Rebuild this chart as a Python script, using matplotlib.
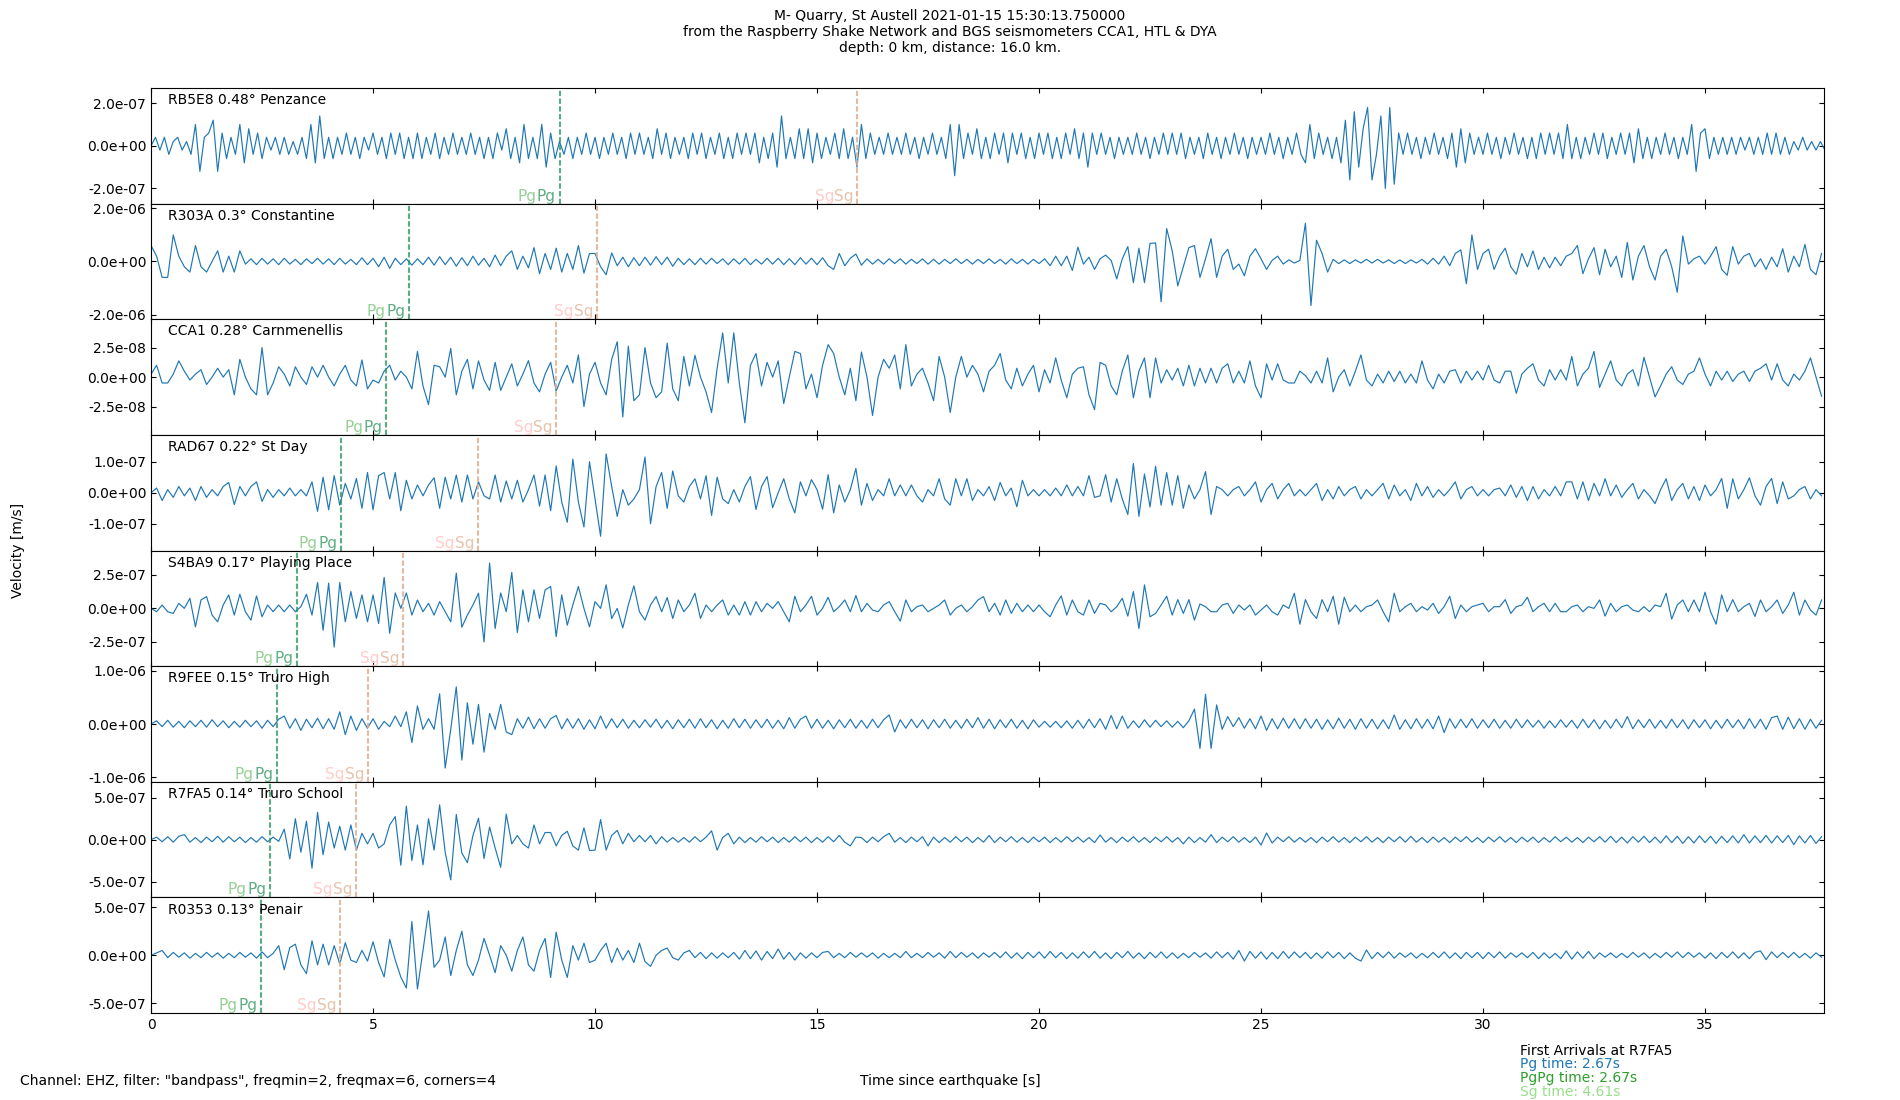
import numpy as np
import matplotlib
matplotlib.use("Agg")
import matplotlib.pyplot as plt
from matplotlib.ticker import FormatStrFormatter
from matplotlib.colors import to_rgb

# ---------------- data ----------------
stations = ["RB5E8 0.48° Penzance", "R303A 0.3° Constantine", "CCA1 0.28° Carnmenellis",
            "RAD67 0.22° St Day", "S4BA9 0.17° Playing Place", "R9FEE 0.15° Truro High",
            "R7FA5 0.14° Truro School", "R0353 0.13° Penair"]
tick_vals = [2.0e-7, 2.0e-6, 2.5e-8, 1.0e-7, 2.5e-7, 1.0e-6, 5.0e-7, 5.0e-7]
y_limits = [2.71e-7, 2.18e-6, 4.9e-8, 1.86e-7, 4.3e-7, 1.09e-6, 6.9e-7, 6.0e-7]
value_units = [2e-8, 2e-7, 2.5e-9, 1e-8, 2.5e-8, 1e-7, 5e-8, 5e-8]
sample_dt = [0.1, 0.125, 0.125, 0.125, 0.125, 0.125, 0.125, 0.125]
pg_times = [9.2, 5.8, 5.29, 4.27, 3.28, 2.83, 2.67, 2.47]
sg_times = [15.91, 10.05, 9.13, 7.37, 5.68, 4.88, 4.61, 4.25]
x_end = 37.68
x_ticks = [0, 5, 10, 15, 20, 25, 30, 35]

rb5e8 = [
    0, 2, -1, 2, -2, 1, 2, -1, 1, -2,
    5, -6, 2, 3, 6, -6, 3, -3, 2, -2,
    5, -4, 4, -2, 3, -3, 2, -1, 2, -2,
    2, -2, 1, -2, 2, -3, 5, -4, 7, -3,
    2, -3, 2, -2, 3, -2, 2, -3, 2, -1,
    3, -2, 2, -3, 3, -2, 3, -3, 2, -3,
    3, -3, 2, -2, 3, -3, 2, -2, 3, -2,
    2, -2, 3, -2, 2, -3, 2, -3, 3, -1,
    4, -3, 2, -4, 5, -3, 2, -3, 5, -5,
    3, -3, 1, -2, 2, -3, 2, -2, 3, -2,
    2, -3, 2, -2, 3, -2, 2, -3, 3, -2,
    3, -2, 2, -3, 4, -2, 3, -3, 2, -2,
    2, -3, 3, -2, 3, -3, 2, -2, 3, -3,
    2, -3, 3, -2, 3, -2, 3, -4, 2, -3,
    3, -5, 7, -3, 2, -3, 4, -3, 4, -4,
    3, -3, 2, -2, 3, -3, 4, -3, 2, -5,
    5, -3, 3, -2, 2, -2, 3, -2, 2, -2,
    3, -2, 2, -3, 2, -2, 3, -2, 2, -3,
    5, -7, 5, -3, 3, -2, 4, -3, 2, -3,
    3, -2, 3, -4, 3, -2, 3, -3, 2, -3,
    3, -2, 3, -3, 2, -3, 3, -2, 4, -3,
    3, -5, 3, -2, 3, -2, 2, -3, 2, -2,
    2, -2, 3, -2, 2, -3, 2, -2, 3, -2,
    3, -2, 3, -3, 2, -2, 2, -3, 3, -2,
    2, -3, 2, -2, 3, -2, 2, -3, 2, -2,
    2, -2, 3, -2, 2, -3, 2, -2, 3, -2,
    -4, 5, -3, 3, -2, 2, -3, 2, -4, 6,
    -8, 8, -5, 4, 9, -8, -2, 7, -10, 9,
    -9, 3, -2, 3, -2, 2, -3, 2, -2, 3,
    -2, 2, -3, 3, -5, 4, -4, 3, -2, 2,
    -2, 3, -2, 2, -3, 2, -2, 3, -2, 2,
    -3, 2, -3, 3, -2, 3, -2, 3, -3, 5,
    -3, 2, -3, 2, -2, 3, -2, 3, -3, 2,
    -2, 3, -2, 3, -4, 4, -3, 2, -3, 2,
    -2, 3, -2, 2, -3, 2, -2, 5, -6, 3,
    4, -3, 2, -2, 2, -2, 2, -2, 2, -1,
    2, -2, 2, -2, 3, -2, 3, -2, 2, -2,
    1, -1, 2, -1, 1, -1, 1, -1,
]

r303a = [
    3, 1, -3, -3, 5, 1, -1, -2,
    3, -1, -2, 0, 2, -2, 1, -2,
    2, -0.5, 0.5, -0.6, 0.6, -0.5, 0.5, -0.6,
    0.6, -0.5, 0.4, -0.6, 0.5, -0.4, 0.6, -0.5,
    0.5, -0.6, 0.6, -0.5, 0.4, -0.6, 0.7, -0.6,
    0.6, -1, 0.8, -1.3, 0.6, -0.6, 0.5, -0.7,
    0.5, -0.6, 0.8, -0.7, 0.9, -0.6, 0.8, -0.9,
    0.7, -0.8, 1, -0.7, 0.6, -1, 1.2, -0.8,
    1, 2, -1.5, 1, -1.2, 2.6, -2.3, 1.5,
    -1.5, 2.5, -2, 1.5, -1.5, 3, -2.2, 1.5,
    1.5, -1, -2.5, 1.6, -0.8, 0.8, -1, 0.7,
    -0.8, 0.8, -0.7, 0.9, -0.6, 0.8, -0.9, 0.6,
    -0.6, 0.5, -0.6, 0.6, -0.5, 0.6, -0.4, 0.5,
    -0.6, 0.5, -0.5, 0.6, -0.6, 0.4, -0.5, 0.6,
    -0.5, 0.6, -0.6, 0.5, -0.6, 0.7, -0.5, 0.6,
    -0.6, 0.7, -0.8, -1.5, 1.5, -0.8, 0.6, 1.4,
    -0.7, 0.5, -0.5, 0.4, -0.5, 0.5, -0.4, 0.5,
    -0.5, 0.4, -0.4, 0.5, -0.5, 0.4, -0.5, 0.4,
    -0.4, 0.5, -0.4, 0.4, -0.5, 0.4, -0.4, 0.5,
    -0.4, 0.4, -0.5, 0.5, -0.4, 0.4, -0.5, 0.4,
    -0.4, 0.5, -0.8, 1, -0.8, 1, -1.7, 2.7,
    -0.5, 0.8, -1.5, 0.5, 1.2, 0.2, -3.3, 0.5,
    2.8, -4, 2.5, -4, 3.4, 3.5, -7.6, 6.2,
    2, -4.6, -1, 2.6, 3, -3, 0.5, 4.3,
    -3, 1, 2.3, -1.5, -0.5, -2.7, 1, 2.4,
    0.5, -1.5, 0.2, 1, -0.5, 0.3, -0.3, 0.2,
    7.2, -8.3, 4, 1.5, -2, 0.4, -0.4, 0.3,
    -0.4, 0.3, -0.3, 0.4, -0.3, 0.4, -0.3, 0.3,
    -0.4, 0.3, -0.4, 0.3, -0.3, 0.4, -0.5, 0.6,
    -0.5, 1, -0.8, 1.5, 2.2, -4.2, 5, -1.5,
    1.5, 2.3, -1.5, 1, 2.5, -1, -2.4, 1.5,
    -1, 2, -1.5, 0.8, -1.2, 0.8, -0.8, 1,
    1.5, 3, -2.3, 0.5, 2.6, -2.5, 2.3, -1,
    1, -3, 3.6, -3.5, 1, 3, -1, -3.5,
    1, 2.3, -1, -5.8, 4.8, -0.5, 0.5, 1,
    -0.5, 1, 2.8, -1.5, -2.6, 2.8, -0.5, 1,
    1.5, -1, 0.5, -1.5, 0.8, -1, 2.4, -2,
    1, -1, 3.2, -1.5, -2.5, 1.5,
]

cca1 = [
    1, 4, -2, -2, 1, 5.5, 2, -1,
    1, 2.5, -2.5, 0, 3, 0, 2.5, -6,
    6, 0, -4, -6, 10, -6, -2, 3.5,
    1, -3, 3.5, 0, -2.5, 3.5, 0, 4,
    0, -3, 1, 4, -1, -3, 5.8, -4,
    -1, -2, 2, 4, -1, 2, 0, -4,
    8.7, -3, -9.3, 4, 3.5, 0, 9.7, -6,
    2, 6, -4, 5.5, -1, -4.5, 5, -4.5,
    0, 4.5, -3, 1, 5.6, -2, -5, 1,
    5, -4.7, 0, 4, -2, 7.5, -10, 1,
    5, -2, -6, 6, 12, -13.5, 10.5, -8,
    -6, 10, -2, -7, -5, 11.5, -4, -8,
    7, -3, 7.4, 0, -5, -12, 3, 15,
    -2, 15, -2, -15.5, 4, 8, -3, 5,
    0, 5.5, -9, 0, 8.7, 8, -4, 1,
    -7, 4, 11, 8, 0, -6, 3, -8,
    8.5, 0, -13, 0, 6, 3, 7.5, -4,
    11, -3, 1, 3, -2, -8, 7, 0,
    -12, 0, 7, 0, 4, 1, -5, 2,
    4, 8, -1, -4, 3, -3, 1, 4,
    -5, 2.5, -2, 6.5, -1, -7, 1, 3,
    3.5, -6, -11, 5, 4, -3, -6, 2,
    7.5, -7, 2, 6.5, -7, 6.5, -2, 2.5,
    -1, 3, -3, 4, -3, 3, -2, 3,
    -2, 3, 4.5, -2, 2, -2, 5.5, -3,
    -7, 4.5, -1, 4.5, -1, -2, -2, 2,
    0.5, -2, 2, -2, 6.5, -5, 0, 2.5,
    -3, 2, 7.5, -1, -3, 1, -2, 2,
    -1.5, 2, -2, 1, -2, 5.5, -1, -4,
    1, -2, 2, 2.5, -2, 2, -1, 2,
    -1, 4, -1, -2, 2, 2, -5.5, 1,
    3, 4.5, -1, -3, 2.5, -1, 2.5, -1,
    7, -3, 1, 3, 8.7, -3.5, 1, 5.5,
    -1, -3, 1, 2.5, -3, 6.7, 0, -6.7,
    -3, 1, 3.5, -1, -2.5, 1, 2, 6.5,
    1, -3, 2, -1, 2, -1.5, 1, 2,
    -1.5, 2, 3, 4.5, -1, 4.5, -1, -3,
    1, -1, 2, 6.5, 0, -6.5,
]

rad67 = [
    0, 1.5, -2.5, 1, -1.5, 2, -1, 1.5,
    -2.5, 2, -1.5, 1, -1, 2, 3.3, -3.8,
    2, -1, 2, 3.5, -2.8, 1, -1.5, 1,
    -1, 1.5, -1, 1, -1, 3.5, -6, 5,
    -5.5, 5.5, -4, 3, -2, 4.6, -5, 6.5,
    -5.5, 5.5, 6.5, -2, 6.5, -5.8, 4, -2,
    2.5, -1, 2.5, 4.8, -5, 5, -2, 5.7,
    -3, 5.7, -2, 3.5, -1, -2, 5.7, -3,
    3.8, -2, 4, -3, 1, 5.7, -4.3, 5.7,
    -5.8, 8.6, -3, -9.5, 10.8, -3, -11, 10,
    -2, -14, 12.5, 2, -7.6, 1, -4, -2,
    1, 11.5, -10, 2, 6.5, -5, 7, -1,
    -3, 2, 4.5, -2, 5.5, -7.3, 5, -2,
    -3.5, 1, -3, 2, 5.2, -5.4, 2, 5.2,
    -4.8, 0, 4.5, -2, -6.5, 3.5, -1, 4.2,
    1, -5.3, 5.8, -6.5, 2.5, -3, 1, 7.8,
    -4, 3, -2.5, 1, -1, 4.5, -1, 2.5,
    -1, 2.5, -1, -3, 1, -1, 4.5, -2,
    -4, 4.5, -1, 4.5, -2.5, 1, -1, 2,
    -2.5, 3.3, -1, 1.5, -4.5, 4, -1, 1,
    -1, 1, -1, 1.5, -1, 2.5, -1, 2,
    -1, 5.5, -1.5, -1, 5.8, -3, 4.5, -2,
    -7, 9.4, -7.6, 6, -4.6, 8.5, -4, 6.5,
    -4, 5.5, -5, 2.5, -2, 1, 6.8, -7,
    2, 1, -1, 1, 2, -1, 1, 3.5,
    -3, 1, 3, -2, 1, 3, -1, 1,
    -1, 1, 3, -2.5, 1, -2, 2, -1,
    1, 2, -2, 1, -1, 1, 3, -2,
    2.5, -1, 1, -2.5, 3, -1, 2, -1.5,
    1, -1, 1, 3.5, -2, 1, 2, -1,
    1, -1, 1, 1.5, -1, 2.5, -1.5, 2,
    -2.5, 2, -2, 1, -1, 2, -1, 3.5,
    3.5, -2, 3.5, -2.5, 3, -1, 4.5, -1,
    2.5, -1.5, 1, 3, -2, 1, -1, -3.5,
    1, 4.5, -2.5, 1, 3, -2, 2, -2.5,
    2.5, -1, 1, 4.6, -5, 4.5, -2, 1,
    4.8, -1, -4, 2, 4.6, -3.5, 3.5, -2,
    -1, 1, 2, -2, 1, -1,
]

s4ba9 = [
    0, -1, 1, -1, -1.5, 1.5, 0, 3,
    -5.5, 2.5, 3.5, -2, -4, 1, 4, -2,
    4.2, -1, -3.5, 3.7, -2.5, 1, -1, 1,
    -1, 1, -1, 0.5, 4.2, -2, 7.7, -6.5,
    7.5, -11.5, 7.7, -4, 5, -3, 4, -4,
    4, -4.5, 9.2, -7.4, 4.6, 0, 4.6, -2,
    2.5, -1, 1.5, -2, 2, -1, -4, 10.5,
    -5.6, -2, 1, 4.5, -10, 13.5, -6, 4.6,
    -1, 10.7, -7.2, 5.5, -4, 5.5, -3, 5.5,
    6.5, -8.4, 4, -5, 1, 6.5, 0, -5.5,
    2, 0, 7, -3, 0, -5.8, 1, 6.7,
    -1, -3.5, 1, 3.5, -1, 3.2, -3, 2.5,
    -1, 1, 4.5, -3, 1, -1, 1, 2.5,
    -2, 1, -2, 2, -2, 2, -1, 1.5,
    0, 2, -1, -4, 3.6, -1, 1, 3.6,
    -2, 0, 3.3, -1, 0.5, 2.5, -1, 3.8,
    -1, 1.5, -0.5, -1, 1, 2, -1, -3.8,
    2.5, -1, 0.5, 1, -1, 0, 1, 2.5,
    -2, 0, 1, -1, 0.5, 2.5, 3.5, -1,
    1.5, -2, 2.5, -1.5, 1.5, -1, 1, -1,
    1, -1, -2.5, 1, 3.7, -2, 2.5, -1,
    -2, 2.5, -1.5, 1.5, 1, -1, 0.5, 3,
    -2.3, 5, -6, 7, -2.5, -1.5, 1, 3.6,
    -2, 2.6, -1.5, 2.6, -3.5, 1.3, 0.5, -1,
    -1, 1, 1.5, -1.5, 1, -0.5, 1, -2,
    -0.5, 1, -1, -2, 1, 0, 4.5, -4.7,
    2.6, -1, -3, 2.6, -1, 3.6, -4.7, 3.3,
    -1, 1, -1, 0.5, 1, 2.5, -1, -4,
    4.5, -1, 0.5, 1.5, -1, 0.5, -0.5, 1.5,
    -1.5, 0.5, 3.6, -3, 1, -1, 0.5, 1,
    1.5, -1, 0.5, 0.5, 2.6, -1.5, 0.5, 1,
    3.3, -1, 0.5, 1.5, -1, 1.5, -1, -1,
    0.5, 1, -1, 0.5, 0, 2.5, -2.3, 1.5,
    -1, 0.5, 1, -0.5, -1, 0.5, -1, 1,
    0.5, 4.5, -3.2, 1, 2.5, -1, 2.5, -1,
    4.8, -1, -4.7, 4, -1, 2.6, -1, 0.5,
    1.5, -2.4, 2.5, -1, 0.5, 2.5, -1.5, 1,
    4.8, -2, 2.5, -0.5, -2, 2.5,
]

r9fee = [
    0, 0.6, -0.5, 0.7, -0.6, 0.5, -0.7, 0.6,
    -0.5, 0.7, -0.6, 0.8, -0.5, 0.6, -0.7, 0.5,
    -0.6, 0.7, -0.5, 0.6, -0.8, 0.7, -0.5, 0.9,
    1.5, -0.8, 1, -1.2, 0.9, -0.7, 1.1, -0.9,
    1, -1, 2.3, -2, 1.5, -1.2, 1, -0.8,
    1, -1, 0.5, -0.5, 1.5, -0.5, 2.3, -3.5,
    3.4, -1, 1, -1, 5.7, -8.3, -1, 7,
    -6.8, 4, -3.8, 3.7, -5.3, 2, -1, 3.7,
    -1.5, -2, 1, -0.8, 1.3, -0.9, 1, -0.8,
    1, 1.6, -0.9, 1, -0.8, 1, -1, 0.8,
    -0.9, 1.5, -0.8, 1, -0.7, 0.9, -0.8, 0.7,
    -0.7, 0.8, -0.6, 0.9, -0.8, 0.7, -0.9, 0.8,
    -0.7, 0.9, -0.8, 1, -0.7, 0.8, -0.9, 0.7,
    -0.8, 1, -0.7, 0.9, -0.8, 0.8, -0.7, 0.9,
    -0.8, 0.7, -0.9, 1.2, -0.8, 0.9, 1.5, -0.8,
    0.9, -0.8, 0.7, -0.9, 0.8, -0.7, 0.9, -0.8,
    0.7, -0.8, 0.9, -0.7, 0.8, 1.7, -1.5, 0.8,
    -0.8, 0.9, -0.7, 0.8, -0.9, 0.8, -0.7, 0.9,
    -0.8, 0.7, -0.8, 0.9, -0.7, 1.2, -0.8, 0.9,
    -0.9, 0.8, -0.7, 0.9, -0.8, 0.7, -0.9, 0.8,
    -0.6, 0.5, -0.6, 0.5, -0.7, 0.6, -0.8, 0.7,
    -0.8, 0.9, -0.7, 1, -1, 1.6, -0.9, 1.5,
    -0.8, 0.6, -0.7, 0.8, -0.6, 0.7, -0.5, 0.6,
    -0.6, 0.5, -0.7, 0.6, 2.8, -4.6, 5.6, -4.6,
    3.6, -1, 1.4, -0.5, 1.2, -0.8, 1, -0.9,
    1.5, -1.2, 1, -0.9, 1.1, -0.8, 1, -0.9,
    1, -0.8, 0.9, -1, 0.8, -0.9, 1.1, -0.8,
    0.9, -1, 1, -0.8, 0.9, -0.9, 0.8, -0.9,
    1.7, -1, 0.8, -0.9, 1, -0.8, 0.9, -0.9,
    1.5, -1.6, 1, -0.8, 0.9, -0.7, 1, -0.8,
    0.8, -0.7, 0.9, -0.8, 0.7, -0.8, 0.9, -0.7,
    0.8, -0.6, 0.7, -0.8, 0.6, -0.7, 0.8, -0.6,
    0.7, -0.8, 0.9, -0.7, 0.8, -0.9, 0.7, -0.8,
    0.9, -0.7, 1.4, -0.9, 0.8, -0.7, 0.9, -0.8,
    0.7, -0.8, 0.9, -0.7, 0.8, -0.9, 0.8, -0.7,
    0.8, -0.9, 0.7, -0.8, 0.9, -0.7, 0.8, -0.9,
    1, -0.8, 0.9, -1, 1.2, 1.5, -1, 1.3,
    -0.9, 1, -1, 0.9, -0.8, 0.7,
]

r7fa5 = [
    0, 0.6, -0.5, 0.7, -0.6, 0.8, 1.2, -0.6,
    0.5, -0.7, 0.6, -0.5, 0.8, -0.6, 0.7, -0.5,
    0.6, -0.7, 0.5, -0.6, 0.7, -0.5, 0.6, -0.4,
    2.5, -4.6, 5, -3, 4.4, -6.8, 6.5, -3.6,
    4.2, -2, 3.2, -2.5, 3.5, -2.5, 1.5, -1,
    1.5, -2, -1, 3.5, 5.5, -6.1, 8, -5,
    3.5, -6, 5, -2.5, 8.3, -3, -9.6, 6,
    -3.2, -5.5, 1, 5.1, -4.5, 3, -2, -6.6,
    6.1, -1, 1, -1, -2, 3.5, -1, 1.7,
    1.7, -1.5, 1, 2, -1.5, -2.5, 2.8, -2.6,
    -2.5, 4.8, -2.5, 1, 2.2, -1, 1.5, -0.5,
    1, -0.5, 1, -1, 0.7, -0.6, 0.5, -0.6,
    0.5, -0.6, 0.7, -0.5, 0.6, 2.1, -2.5, 0.5,
    1.5, -1, 0.6, -0.7, 0.5, -0.6, 0.7, -0.5,
    0.6, -0.7, 0.5, -0.6, 0.7, -0.5, 0.6, -0.7,
    0.5, -0.6, 0.7, -0.5, 1, -0.6, -1.5, 0.6,
    0.5, -0.7, 0.6, -0.5, 0.7, 1.5, -0.6, 0.5,
    -0.7, 0.6, -0.5, 0.7, -1.5, 0.6, -0.7, 0.5,
    -0.6, 0.7, -0.5, 0.6, -0.7, 0.5, -0.6, 1,
    -0.7, 0.6, -0.5, 0.7, -0.6, 0.5, -0.7, 0.6,
    -0.5, 0.6, -0.7, 0.5, -0.6, 0.7, -0.5, 0.6,
    -0.6, 0.5, -0.7, 1.1, -0.6, 0.5, -0.7, 0.6,
    -0.5, 0.7, -0.6, 0.5, -0.7, 0.6, -0.5, 0.7,
    -0.6, 0.5, -1, 0.6, -0.7, 0.5, -0.6, 1.2,
    -0.7, 0.6, -0.5, 0.7, -0.6, 0.5, -0.7, 0.6,
    -1.3, 1.6, -0.8, 0.6, -0.5, 0.7, -0.6, 0.5,
    -0.6, 0.5, -0.7, 0.6, -0.5, 0.7, -0.6, 0.5,
    -0.7, 0.6, -0.5, 0.7, -0.6, 0.5, -0.7, 0.6,
    -0.5, 0.7, -0.6, 0.8, -0.6, 0.5, -0.7, 0.6,
    -0.6, 0.5, -0.7, 0.6, -0.5, 0.7, -0.6, 0.5,
    -0.7, 0.6, -0.5, 0.7, -0.6, 0.5, -0.7, 0.6,
    -0.5, 0.6, -0.7, 0.5, -0.6, 0.7, -0.5, 0.6,
    -0.6, 0.5, -0.7, 0.6, -0.5, 0.7, -0.6, 0.8,
    -0.7, 0.6, -0.8, 0.7, -0.6, 0.8, -0.7, 0.6,
    -0.8, 0.9, -0.7, 0.8, -0.9, 0.7, -0.8, 0.9,
    -0.7, 0.8, -0.9, 0.8, -0.7, 0.9, -0.8, 1.2,
    -0.8, 0.9, -0.7, 1, -0.8, 0.9, -0.7, 1,
    -1.2, 0.9, -0.8, 1, -0.9, 0.7,
]

r0353 = [
    0, 0.5, 1, -0.5, 0.6, -0.4, 0.5, -0.6,
    0.4, -0.5, 0.6, -0.4, 0.5, -0.6, 0.4, -0.5,
    0.6, -0.4, 0.5, -0.6, 0.7, -0.5, 0.4, 2,
    -3, 1.6, 2.3, -2, -3.8, 3, -2, 2.3,
    -2, 2, -1.8, 2.6, -1, -1.5, 1, -1.2,
    2.8, -1.5, -4.5, 3.3, -1, -4.5, -6.8, 7,
    -7, 1, 9.2, -2.5, -1, 3.8, -4.2, 1,
    5, -2, -4.2, -1, 3.5, 0, -3.6, 2,
    0, -3.3, 1, 3.8, -2, -3.3, 1, 3.5,
    -4.6, 4.8, -1, -4.6, 2, -1, 2.5, -1.5,
    -1, 1, 2.5, -1.5, 1.5, -1, 1, -1.5,
    2.5, -1.3, -2.3, 0, 1, 1.5, -0.5, -1,
    0.5, 1, -0.5, 0.6, -0.7, 0.5, -0.6, 0.5,
    -0.5, 0.6, -0.8, 1, -0.7, 0.9, -1, 0.8,
    -0.7, 1.3, -0.8, 0.6, -1, 0.5, -0.6, 0.5,
    -0.5, 0.6, 0.8, -0.5, 0.4, -0.5, 0.6, -0.4,
    0.5, -0.4, 0.5, -0.6, 0.4, -0.5, 0.4, -0.5,
    0.8, -0.5, 0.4, -0.5, 0.6, -0.4, 0.5, -0.6,
    0.8, -0.5, 0.6, -0.4, 0.5, -0.6, 0.5, -0.4,
    0.6, -0.5, 0.7, -0.6, 0.5, -0.7, 0.6, -0.5,
    0.7, -0.6, 0.8, -0.5, 0.6, -0.7, 0.5, -0.6,
    0.7, -0.5, 0.8, -0.6, 0.5, -0.7, 0.6, -0.5,
    0.8, -0.6, 0.5, -0.7, 0.6, -0.5, 0.7, -0.6,
    0.5, -0.6, 0.4, -0.5, 0.6, -0.4, 0.5, -0.6,
    0.7, -0.5, 0.6, -0.8, 1, -1.2, 0.8, -0.6,
    0.7, -0.8, 0.6, -0.7, 0.8, -0.6, 0.7, -0.5,
    0.6, -0.7, 0.5, -0.6, 0.7, -0.5, 0.6, -0.7,
    0.5, -0.6, -1.2, 1.1, -0.7, 0.6, -0.5, 0.7,
    -0.6, 0.5, -0.4, 0.5, -0.6, 0.4, -0.5, 0.6,
    -0.5, 0.7, -0.6, 0.5, -0.7, 0.6, -0.5, 0.6,
    -0.7, 0.6, -0.5, 0.7, -0.6, 0.5, -0.4, 0.5,
    -0.5, 0.6, -0.7, 0.5, -0.6, 0.4, -0.7, 0.9,
    -0.8, 0.7, -0.6, 0.8, -0.7, 0.5, -0.4, 0.5,
    -0.5, 0.4, -0.5, 0.6, -0.4, 0.5, -0.6, 0.4,
    -0.5, 0.6, -0.4, 0.7, -0.5, 0.6, -0.4, 0.5,
    -0.6, 0.5, -0.7, 0.6, -0.5, 0.7, -0.6, 0.5,
    -0.7, 0.6, 0.9, -0.9, 0.7, -0.5, 0.6, -0.5,
    0.6, -0.5, 0.4, -0.6, 0.5, -0.4,
]

traces = [rb5e8, r303a, cca1, rad67, s4ba9, r9fee, r7fa5, r0353]

title_text = ("M- Quarry, St Austell 2021-01-15 15:30:13.750000\n"
              "from the Raspberry Shake Network and BGS seismometers CCA1, HTL & DYA\n"
              "depth: 0 km, distance: 16.0 km.")
filter_text = 'Channel: EHZ, filter: "bandpass", freqmin=2, freqmax=6, corners=4'
arrival_lines = ["First Arrivals at R7FA5", "Pg time: 2.67s", "PgPg time: 2.67s", "Sg time: 4.61s"]
arrival_colors = ["black", "#1f77b4", "#2ca02c", "#98df8a"]

# colours of phases
pg_col, pgpg_col = "#1f77b4", "#2ca02c"
sg_col, sgsg_col = "#98df8a", "#ff9896"
trace_col = "#1f77b4"
pg_line_alpha = 0.5
sg_line_alpha = 0.6
label_alpha = 0.5


def over(fg, alpha, bg=(1.0, 1.0, 1.0)):
    """Composite colour fg with opacity alpha over background bg."""
    f = np.array(to_rgb(fg))
    b = np.array(bg)
    return tuple(alpha * f + (1 - alpha) * b)


# label colours as the semi-transparent labels appear on white
pgpg_first = over(pgpg_col, label_alpha)
pgpg_second = over(pgpg_col, label_alpha, over(pg_col, label_alpha))
sgsg_first = over(sgsg_col, label_alpha)
sgsg_second = over(sgsg_col, label_alpha, over(sg_col, label_alpha))

# ---------------- plot ----------------
fig, axes = plt.subplots(8, 1, sharex=True, figsize=(19, 11), dpi=100)
fig.subplots_adjust(left=0.0795, right=0.96, top=0.92, bottom=0.079, hspace=0)
axes[-1].set_xlim(0, x_end)
axes[-1].set_xticks(x_ticks)
axes[-1].set_xticklabels([str(v) for v in x_ticks])
renderer = fig.canvas.get_renderer()

dash = (0, (2.5, 1.2))
label_fs = 11


def phase_label(ax, x, y, name, first_col, second_col):
    # right part first, then the left part placed just before it
    right = ax.text(x, y, name, color=second_col, ha='right', va='bottom', fontsize=label_fs)
    bb = right.get_window_extent(renderer)
    x_left = ax.transData.inverted().transform((bb.x0 - 0.3, bb.y0))[0]
    ax.text(x_left, y, name, color=first_col, ha='right', va='bottom', fontsize=label_fs)


for i, ax in enumerate(axes):
    vals = np.array(traces[i], dtype=float) * value_units[i]
    t = np.arange(len(vals)) * sample_dt[i]
    ax.plot(t, vals, color=trace_col, lw=0.85)
    ylim = y_limits[i]
    ax.set_ylim(-ylim, ylim)
    ax.set_yticks([-tick_vals[i], 0, tick_vals[i]])
    ax.yaxis.set_major_formatter(FormatStrFormatter('%.1e'))
    ax.tick_params(direction='in', top=True, right=True, labelsize=10)

    ax.axvline(pg_times[i], color=pg_col, ls=dash, lw=1.5, alpha=pg_line_alpha)
    ax.axvline(pg_times[i], color=pgpg_col, ls=dash, lw=1.5, alpha=pg_line_alpha)
    ax.axvline(sg_times[i], color=sg_col, ls=dash, lw=1.5, alpha=sg_line_alpha)
    ax.axvline(sg_times[i], color=sgsg_col, ls=dash, lw=1.5, alpha=sg_line_alpha)

    phase_label(ax, pg_times[i] - 0.08, -ylim, "Pg", pgpg_first, pgpg_second)
    phase_label(ax, sg_times[i] - 0.08, -ylim, "Sg", sgsg_first, sgsg_second)

    ax.text(0.01, 0.955, stations[i], transform=ax.transAxes,
            ha='left', va='top', fontsize=10)

fig.text(0.5, 0.992, title_text, ha='center', va='top', fontsize=10)
fig.text(0.0095, 0.5, "Velocity [m/s]", rotation=90, ha='center', va='center', fontsize=10)
fig.text(0.0105, 0.0173, filter_text, ha='left', va='center', fontsize=10)
fig.text(0.5, 0.0173, "Time since earthquake [s]", ha='center', va='center', fontsize=10)

arr_y = [0.0445, 0.0327, 0.0200, 0.0073]
for txt, col, yy in zip(arrival_lines, arrival_colors, arr_y):
    fig.text(0.8, yy, txt, color=col, ha='left', va='center', fontsize=10)

fig.savefig("out.png", dpi=100)
